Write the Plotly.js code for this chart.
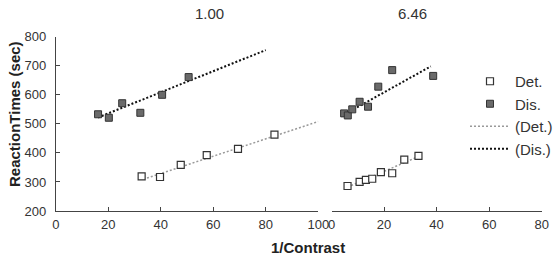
<!DOCTYPE html>
<html>
<head>
<meta charset="utf-8">
<script src="https://cdn.plot.ly/plotly-3.0.1.min.js"></script>
<style>html,body{margin:0;padding:0;background:#fff;}#chart{width:558px;height:259px;}</style>
</head>
<body>
<div id="chart"></div>
<script>
// Panel 1 (contrast 1.00)
const p1DetX = [32.7, 39.7, 47.6, 57.5, 69.4, 83.3];
const p1DetY = [319, 317, 359, 392, 414, 463];
const p1DisX = [16.1, 20.2, 25.3, 32.2, 40.5, 50.6];
const p1DisY = [533, 521, 571, 538, 600, 661];
const p1DetFitX = [33.3, 100];
const p1DetFitY = [309, 508];
const p1DisFitX = [16.1, 80];
const p1DisFitY = [522, 754];
// Panel 2 (contrast 6.46)
const p2DetX = [6.1, 10.7, 13.1, 15.5, 18.8, 23.1, 27.7, 33.1];
const p2DetY = [286, 300, 307, 311, 334, 330, 377, 390];
const p2DisX = [4.8, 6.2, 7.9, 10.7, 13.9, 17.8, 23.1, 38.7];
const p2DisY = [536, 529, 550, 576, 559, 628, 685, 665];
const p2DetFitX = [6.1, 33.2];
const p2DetFitY = [282, 388];
const p2DisFitX = [4.4, 37.8];
const p2DisFitY = [530, 698];
const panelTitles = ['1.00', '6.46'];
const legendNames = ['Det.', 'Dis.', '(Det.)', '(Dis.)'];

const W = 558, H = 259;
const px = v => v / W;
const py = v => 1 - v / H;

const openMarker = {symbol: 'square', size: 7, color: '#ffffff', line: {color: '#333333', width: 1.2}};
const fillMarker = {symbol: 'square', size: 7, color: '#6a6a6a', line: {color: '#333333', width: 1}};
const detLine = {color: '#9a9a9a', width: 1.5, dash: '2px,2px'};
const disLine = {color: '#111111', width: 2, dash: '2px,2px'};

const fitP1Det = {x: p1DetFitX, y: p1DetFitY, mode: 'lines', line: detLine, name: legendNames[2], xaxis: 'x', yaxis: 'y', legendrank: 3};
const fitP1Dis = {x: p1DisFitX, y: p1DisFitY, mode: 'lines', line: disLine, name: legendNames[3], xaxis: 'x', yaxis: 'y', legendrank: 4};
const ptsP1Det = {x: p1DetX, y: p1DetY, mode: 'markers', marker: openMarker, name: legendNames[0], xaxis: 'x', yaxis: 'y', legendrank: 1};
const ptsP1Dis = {x: p1DisX, y: p1DisY, mode: 'markers', marker: fillMarker, name: legendNames[1], xaxis: 'x', yaxis: 'y', legendrank: 2};
const fitP2Det = {x: p2DetFitX, y: p2DetFitY, mode: 'lines', line: detLine, showlegend: false, xaxis: 'x2', yaxis: 'y'};
const fitP2Dis = {x: p2DisFitX, y: p2DisFitY, mode: 'lines', line: disLine, showlegend: false, xaxis: 'x2', yaxis: 'y'};
const ptsP2Det = {x: p2DetX, y: p2DetY, mode: 'markers', marker: openMarker, showlegend: false, xaxis: 'x2', yaxis: 'y'};
const ptsP2Dis = {x: p2DisX, y: p2DisY, mode: 'markers', marker: fillMarker, showlegend: false, xaxis: 'x2', yaxis: 'y'};
const data = [fitP1Det, fitP1Dis, ptsP1Det, ptsP1Dis, fitP2Det, fitP2Dis, ptsP2Det, ptsP2Dis];

const FF = 'Liberation Sans, Arial, sans-serif';
const tickFont = {family: FF, size: 13, color: '#333333'};
const axisCommon = {
  showgrid: false, zeroline: false, showline: true, linecolor: '#444444', linewidth: 1,
  ticks: 'inside', ticklen: 4, tickcolor: '#444444', tickfont: tickFont, fixedrange: true
};

const layout = {
  width: W, height: H,
  margin: {l: 0, r: 0, t: 0, b: 0},
  paper_bgcolor: '#ffffff', plot_bgcolor: 'rgba(0,0,0,0)',
  font: {family: FF, color: '#333333'},
  xaxis: Object.assign({}, axisCommon, {domain: [px(55.8), px(318.3)], range: [0, 100], tickvals: [0, 20, 40, 60, 80, 100], anchor: 'y', ticklabelstandoff: 1}),
  xaxis2: Object.assign({}, axisCommon, {domain: [px(331.5), px(541.7)], range: [0, 80], tickvals: [0, 20, 40, 60, 80], anchor: 'y', ticklabelstandoff: 1}),
  yaxis: Object.assign({}, axisCommon, {domain: [py(211), py(36.7)], range: [200, 800], tickvals: [200, 300, 400, 500, 600, 700, 800], anchor: 'x', ticklabelstandoff: 6}),
  showlegend: true,
  legend: {
    x: px(465), y: py(65), xanchor: 'left', yanchor: 'top',
    font: {family: FF, size: 15, color: '#333333'},
    bgcolor: 'rgba(0,0,0,0)', itemwidth: 40, tracegroupgap: 0, traceorder: 'normal'
  },
  annotations: [
    {text: panelTitles[0], xref: 'paper', yref: 'paper', x: px(209), y: py(13), xanchor: 'center', yanchor: 'middle', showarrow: false, font: {family: FF, size: 15, color: '#333333'}},
    {text: panelTitles[1], xref: 'paper', yref: 'paper', x: px(412), y: py(13), xanchor: 'center', yanchor: 'middle', showarrow: false, font: {family: FF, size: 15, color: '#333333'}},
    {text: '<b>ReactionTimes (sec)</b>', xref: 'paper', yref: 'paper', x: px(14), y: py(114), xanchor: 'center', yanchor: 'middle', textangle: -90, showarrow: false, font: {family: FF, size: 15, color: '#222222'}},
    {text: '<b>1/Contrast</b>', xref: 'paper', yref: 'paper', x: px(308), y: py(247), xanchor: 'center', yanchor: 'middle', showarrow: false, font: {family: FF, size: 15, color: '#222222'}}
  ]
};

Plotly.newPlot('chart', data, layout, {staticPlot: true, displayModeBar: false});
</script>
</body>
</html>
